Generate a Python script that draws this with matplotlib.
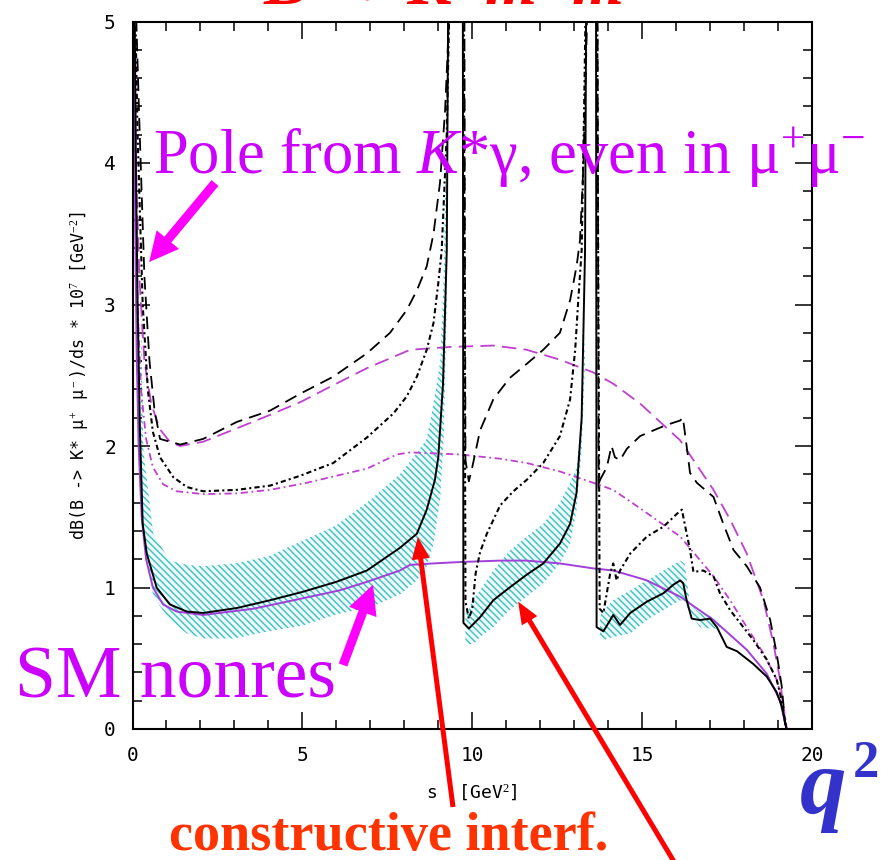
import matplotlib
matplotlib.use("Agg")
import matplotlib.pyplot as plt
import numpy as np

plt.rcParams['mathtext.fontset'] = 'custom'
plt.rcParams['mathtext.rm'] = 'Liberation Serif'
plt.rcParams['mathtext.it'] = 'Liberation Serif:italic'
plt.rcParams['hatch.linewidth'] = 1.0

# ---------------- data: dB/ds * 1e7 vs s [GeV^2] ----------------
# SM with charmonium resonances (solid black)
sm_res_s = [0.05, 0.10, 0.15, 0.22, 0.30, 0.42, 0.71, 1.10, 1.60, 2.08, 3.07, 4.05,
            5.02, 6.00, 6.90, 7.87, 8.37, 8.66, 8.90, 9.00, 9.14, 9.25, 9.30,
            9.72, 9.74, 9.90, 10.23, 10.62, 11.10, 11.60, 12.09, 12.58, 12.88,
            13.07, 13.22, 13.32, 13.36,
            13.64, 13.66, 13.86, 14.06, 14.15, 14.35, 14.65, 15.14, 15.63, 15.92,
            16.12, 16.21, 16.31, 16.46, 16.70, 17.00, 17.20, 17.49, 17.79, 18.27,
            18.67, 18.96, 19.11, 19.21, 19.25]
sm_res_v = [5.5, 4.0, 3.0, 2.1, 1.45, 1.24, 1.00, 0.88, 0.83, 0.82, 0.855, 0.91,
            0.97, 1.04, 1.12, 1.28, 1.38, 1.55, 1.76, 1.92, 2.44, 3.38, 5.5,
            6.0, 0.75, 0.71, 0.79, 0.91, 1.00, 1.09, 1.17, 1.31, 1.45,
            1.67, 2.20, 3.38, 5.5,
            6.0, 0.72, 0.69, 0.77, 0.806, 0.735, 0.82, 0.90, 0.96, 1.02,
            1.05, 1.03, 0.91, 0.78, 0.77, 0.78, 0.72, 0.58, 0.55, 0.46,
            0.37, 0.26, 0.16, 0.05, 0.0]

# uncertainty band around the SM curve (three pieces between resonances)
band1_s = [0.25, 0.32, 0.61, 1.10, 1.60, 2.08, 3.00, 4.00, 5.00, 6.00, 7.00, 7.87,
           8.37, 8.66, 8.86, 9.06, 9.16, 9.25]
band1_lo = [1.60, 1.40, 0.935, 0.77, 0.675, 0.64, 0.64, 0.69, 0.73, 0.81, 0.86, 0.95,
            1.05, 1.15, 1.31, 1.64, 2.07, 3.00]
band1_hi = [3.00, 1.97, 1.38, 1.19, 1.16, 1.15, 1.17, 1.22, 1.33, 1.44, 1.62, 1.80,
            1.95, 2.05, 2.30, 2.60, 3.20, 4.50]
band2_s = [9.80, 9.90, 10.03, 10.23, 10.62, 11.10, 11.60, 12.09, 12.58, 12.88, 13.07,
           13.22, 13.32]
band2_lo = [0.62, 0.60, 0.60, 0.65, 0.72, 0.84, 0.935, 1.03, 1.17, 1.31, 1.55,
            1.97, 2.60]
band2_hi = [0.80, 0.85, 0.92, 0.98, 1.12, 1.26, 1.36, 1.45, 1.60, 1.74, 1.85,
            2.20, 2.80]
band3_s = [13.76, 13.86, 14.15, 14.65, 15.14, 15.63, 16.12, 16.25, 16.41, 16.70,
           17.00, 17.29]
band3_lo = [0.64, 0.63, 0.65, 0.675, 0.77, 0.84, 0.91, 0.90, 0.82, 0.72, 0.71, 0.71]
band3_hi = [0.80, 0.84, 0.91, 0.98, 1.05, 1.12, 1.19, 1.17, 0.88, 0.82, 0.80, 0.76]

# non-resonant curves (magenta): SM, and two enhanced scenarios
nr_sm_s = [0.02, 0.05, 0.08, 0.12, 0.18, 0.27, 0.40, 0.60, 0.90, 1.30, 2.08, 3.56,
           4.94, 6.10, 6.90, 7.87, 8.17, 8.85, 9.64, 10.82, 11.60, 12.58, 13.56,
           14.15, 14.94, 15.14, 16.12, 17.10, 18.08, 18.67, 19.06, 19.21, 19.25]
nr_sm_v = [5.5, 4.8, 3.6, 2.7, 2.0, 1.5, 1.2, 1.0, 0.88, 0.83, 0.806, 0.85,
           0.92, 0.98, 1.04, 1.12, 1.16, 1.17, 1.18, 1.19, 1.19, 1.17, 1.135,
           1.12, 1.065, 1.05, 0.935, 0.77, 0.56, 0.39, 0.20, 0.04, 0.0]

nr_mid_s = [0.03, 0.08, 0.15, 0.25, 0.40, 0.60, 0.90, 1.30, 2.08, 3.07, 4.05, 5.13,
            6.10, 6.90, 7.78, 8.17, 9.64, 10.82, 11.60, 12.58, 13.56, 14.15, 14.94,
            16.12, 17.10, 17.59, 18.08, 18.57, 18.96, 19.16, 19.26]
nr_mid_v = [5.5, 4.0, 3.0, 2.4, 2.05, 1.85, 1.73, 1.68, 1.66, 1.665, 1.69, 1.74,
            1.795, 1.84, 1.94, 1.955, 1.94, 1.91, 1.88, 1.82, 1.74, 1.69, 1.56,
            1.36, 1.08, 0.91, 0.72, 0.535, 0.35, 0.16, 0.0]

nr_hi_s = [0.03, 0.10, 0.20, 0.35, 0.55, 0.80, 1.10, 1.40, 2.08, 3.07, 4.05, 4.94,
           5.91, 6.90, 7.78, 8.17, 9.35, 10.62, 11.60, 12.58, 13.56, 14.15, 14.94,
           16.12, 17.10, 17.59, 18.08, 18.57, 18.86, 19.06, 19.21, 19.25]
nr_hi_v = [5.5, 4.0, 3.2, 2.6, 2.3, 2.12, 2.03, 2.00, 2.03, 2.125, 2.22, 2.31,
           2.43, 2.55, 2.64, 2.68, 2.70, 2.71, 2.68, 2.61, 2.52, 2.44, 2.30,
           2.04, 1.69, 1.48, 1.24, 0.91, 0.61, 0.35, 0.04, 0.0]

# enhanced scenarios with resonances (black dotted / dashed)
res_mid_s = [0.05, 0.15, 0.30, 0.45, 0.60, 0.81, 1.20, 1.60, 2.08, 3.07, 4.05, 4.94,
             5.91, 6.90, 7.68, 8.07, 8.37, 8.66, 8.86, 9.00, 9.10, 9.25, 9.36,
             9.74, 9.80, 9.90, 10.00, 10.10, 10.23, 10.43, 10.82, 11.21, 11.60,
             12.09, 12.58, 12.88, 13.03, 13.12, 13.22, 13.30, 13.36,
             13.66, 13.75, 13.86, 14.06, 14.15, 14.25, 14.35, 14.65, 15.14, 15.63,
             16.02, 16.17, 16.27, 16.41, 16.51, 16.80, 17.10, 17.29, 17.59, 17.88,
             18.27, 18.67, 18.96, 19.11, 19.21, 19.25]
res_mid_v = [5.5, 4.2, 3.0, 2.4, 2.1, 1.92, 1.78, 1.71, 1.68, 1.69, 1.72, 1.79,
             1.88, 2.06, 2.23, 2.35, 2.49, 2.68, 2.87, 3.15, 3.38, 4.21, 5.5,
             6.0, 0.90, 0.78, 0.85, 1.10, 1.25, 1.38, 1.58, 1.68, 1.76,
             1.88, 2.07, 2.33, 2.68, 3.03, 3.38, 4.50, 5.5,
             6.0, 0.85, 0.82, 1.10, 1.17, 1.05, 1.12, 1.24, 1.36, 1.43,
             1.52, 1.55, 1.43, 1.265, 1.11, 1.12, 1.08, 0.96, 0.84, 0.75,
             0.63, 0.49, 0.35, 0.20, 0.04, 0.0]

res_hi_s = [0.05, 0.20, 0.35, 0.50, 0.65, 0.81, 1.40, 2.08, 3.07, 4.05, 4.94, 5.91,
            6.90, 7.58, 8.07, 8.37, 8.66, 8.86, 9.05, 9.20, 9.30, 9.34,
            9.76, 9.80, 9.90, 10.00, 10.23, 10.62, 11.10, 11.60, 12.09, 12.58,
            12.88, 13.07, 13.17, 13.27, 13.37, 13.40,
            13.68, 13.72, 13.76, 13.96, 14.10, 14.20, 14.35, 14.55, 14.94, 15.33,
            15.73, 16.12, 16.20, 16.31, 16.41, 16.61, 17.10, 17.39, 17.69, 18.08,
            18.47, 18.77, 18.96, 19.11, 19.21, 19.25]
res_hi_v = [5.5, 4.3, 3.2, 2.6, 2.25, 2.05, 2.01, 2.05, 2.17, 2.25, 2.37, 2.49,
            2.655, 2.80, 2.96, 3.10, 3.27, 3.50, 3.86, 4.37, 4.92, 5.5,
            6.0, 1.90, 1.75, 1.85, 2.11, 2.33, 2.48, 2.58, 2.68, 2.80,
            3.03, 3.27, 3.45, 3.97, 4.92, 5.5,
            6.0, 1.70, 1.76, 1.85, 2.00, 1.92, 1.90, 1.98, 2.07, 2.11,
            2.15, 2.18, 2.20, 2.00, 1.81, 1.74, 1.64, 1.45, 1.265, 1.15,
            1.00, 0.77, 0.535, 0.30, 0.04, 0.0]

x_ticks = [0, 5, 10, 15, 20]
y_ticks = [0, 1, 2, 3, 4, 5]

# ---------------- figure ----------------
W, H = 881, 860
fig = plt.figure(figsize=(W / 100, H / 100), dpi=100)
ax = fig.add_axes([132.5 / W, 1 - 729 / H, (812 - 132.5) / W, (729 - 21.5) / H])
ax.set_xlim(0, 20)
ax.set_ylim(0, 5)

cyan = '#3cc0c4'
for bs, lo, hi in [(band1_s, band1_lo, band1_hi),
                   (band2_s, band2_lo, band2_hi),
                   (band3_s, band3_lo, band3_hi)]:
    ax.fill_between(bs, lo, hi, facecolor='#eefafa', edgecolor='none', zorder=1)
    ax.fill_between(bs, lo, hi, facecolor='none', edgecolor=cyan,
                    hatch='\\\\\\\\\\', linewidth=0, zorder=1.2)

mag = '#c040d0'
ax.plot(nr_hi_s, nr_hi_v, color=mag, lw=1.3, ls=(0, (8, 4)), zorder=2)
ax.plot(nr_mid_s, nr_mid_v, color=mag, lw=1.3, ls=(0, (4, 2, 1, 2)), zorder=2)
ax.plot(nr_sm_s, nr_sm_v, color='#a040d8', lw=1.4, zorder=2)

ax.plot(res_hi_s, res_hi_v, color='black', lw=1.3, ls=(0, (7, 4)), zorder=3)
ax.plot(res_mid_s, res_mid_v, color='black', lw=1.5, ls=(0, (2.5, 1.5, 1, 1.5)), zorder=3)
ax.plot(sm_res_s, sm_res_v, color='black', lw=1.4, zorder=3)

# axis styling: inward ticks on all four sides
tickfont = dict(family='DejaVu Sans Mono', size=14)
ax.set_xticks(x_ticks)
ax.set_yticks(y_ticks)
ax.set_xticks(np.arange(0, 21, 1), minor=True)
ax.set_yticks(np.arange(0, 5.01, 0.2), minor=True)
ax.tick_params(which='both', direction='in', top=True, right=True,
               labeltop=False, labelright=False, width=1.1, color='black')
ax.tick_params(which='major', length=12.5)
ax.tick_params(axis='x', which='major', pad=12)
ax.tick_params(axis='y', which='major', pad=12)
ax.tick_params(which='minor', length=6.5)
ax.set_xticklabels([str(t) for t in x_ticks], **tickfont)
ax.set_yticklabels([str(t) for t in y_ticks], **tickfont)
for sp in ax.spines.values():
    sp.set_linewidth(1.5)

ax.set_xlabel('s  [GeV$^2$]', fontsize=13, family='DejaVu Sans Mono', labelpad=12)
ax.set_ylabel('dB(B -> K* \u03bc$^+$ \u03bc$^-$)/ds * 10$^7$ [GeV$^{-2}$]',
              fontsize=12, family='DejaVu Sans Mono', labelpad=10)

# ---------------- annotations ----------------
serif = 'Liberation Serif'
fig.text(264 / W, 1 - 4 / H, 'B \u2192 K*m\u207am\u207b', color='red',
         family=[serif, 'DejaVu Serif'], style='italic', weight='bold',
         fontsize=48, ha='left', va='baseline')

fig.text(153 / W, 1 - 174 / H, r'Pole from $K$*γ, even in μ$^{+}$μ$^{-}$',
         color='#cc00ff', family=serif, fontsize=45, ha='left', va='baseline')
fig.text(15 / W, 1 - 698 / H, 'SM nonres', color='#cc00ff', family=serif,
         fontsize=53, ha='left', va='baseline')
fig.text(169 / W, 1 - 850 / H, 'constructive interf.', color='#ff3300',
         family=serif, weight='bold', fontsize=39, ha='left', va='baseline')
fig.text(800 / W, 1 - 813 / H, 'q', color='#3333cc', family=serif,
         weight='bold', style='italic', fontsize=67, ha='left', va='baseline')
fig.text(853 / W, 1 - 777 / H, '2', color='#3333cc', family=serif,
         weight='bold', fontsize=38, ha='left', va='baseline')

mag_style = 'simple,head_length=2.1,head_width=2.1,tail_width=0.65'
red_style = 'simple,head_length=1.6,head_width=1.3,tail_width=0.36'
for tail, tip, col, st in [((215, 183), (0.49, 3.30), '#ff00ff', mag_style),
                           ((343, 665), (7.08, 1.02), '#ff00ff', mag_style),
                           ((453, 807), (8.40, 1.357), '#ff0000', red_style),
                           ((682, 875), (11.35, 0.90), '#ff0000', red_style)]:
    ax.annotate('', xy=tip, xycoords='data',
                xytext=(tail[0] / W, 1 - tail[1] / H), textcoords='figure fraction',
                arrowprops=dict(arrowstyle=st, color=col, mutation_scale=10,
                                shrinkA=0, shrinkB=0, lw=0),
                annotation_clip=False, zorder=10)

fig.savefig('out.png', dpi=100)
